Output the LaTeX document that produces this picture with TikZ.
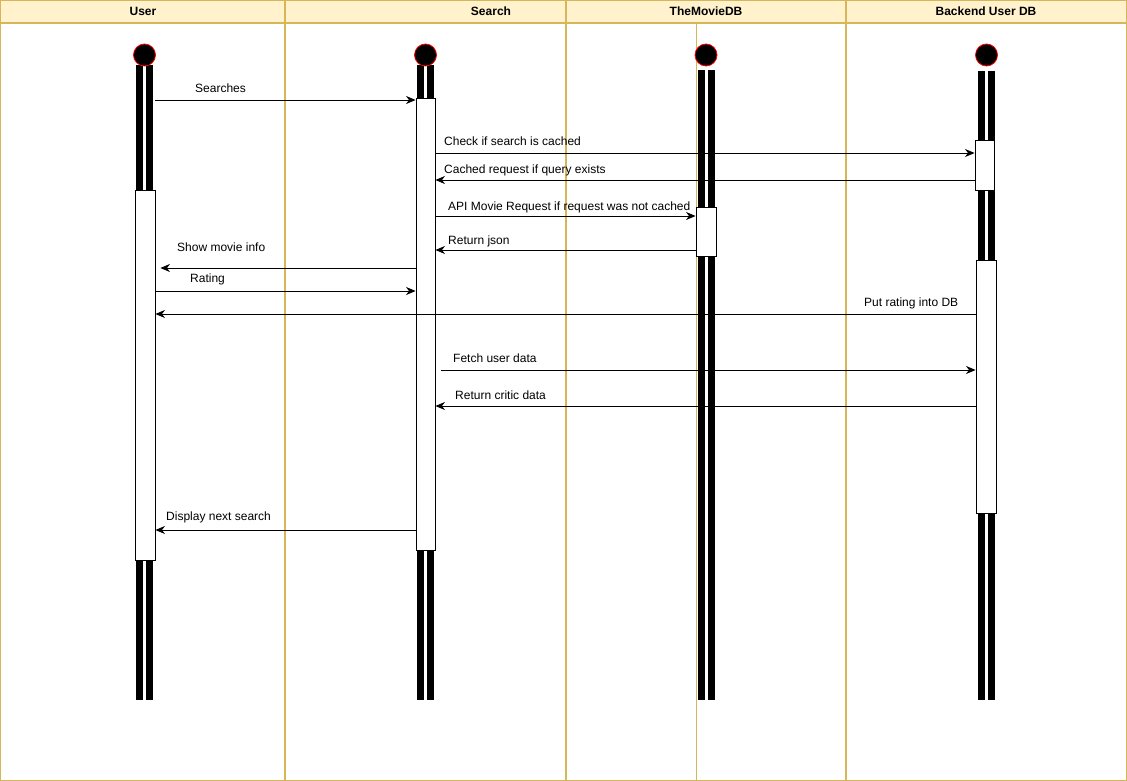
\documentclass[tikz,border=0pt]{standalone}
\usepackage{fontspec}
\setmainfont{Liberation Sans}
\usetikzlibrary{arrows.meta,positioning}
\definecolor{lanefill}{HTML}{FFF2CC}
\definecolor{laneline}{HTML}{D6B656}

\begin{document}
\begin{tikzpicture}[x=1pt,y=-1pt,
	lane/.style={draw=laneline,line width=1.1pt},
	lanehead/.style={font=\fontsize{12}{14}\selectfont\bfseries,inner sep=0pt},
	headdot/.style={circle,fill=black,draw=red,line width=0.8pt,minimum size=22pt,inner sep=0pt},
	act/.style={draw=black,fill=white,line width=0.9pt,inner sep=0pt},
	msg/.style={line width=0.9pt,-{Stealth[length=9.5pt,width=8pt,inset=3pt]}},
	lbl/.style={font=\fontsize{12}{14}\selectfont,anchor=west,inner sep=0pt}]
			\useasboundingbox (0,0) rectangle (1127,781);
			\fill[white] (0,0) rectangle (1127,781);
			
			\draw[lane,fill=lanefill] (0.6,0.6) rectangle (1126.4,23);
			\draw[lane] (0.6,23) rectangle (1126.4,780.4);
			\draw[lane] (285,0.6) -- (285,780.4);
			\draw[lane] (566,0.6) -- (566,780.4);
			\draw[lane,line width=0.8pt] (696,23) -- (696,780.4);
			\draw[lane,line width=2pt] (846,0.6) -- (846,780.4);
			
			\node[lanehead] (huser) at (143,11) {User};
			\node[lanehead] (hsearch) at (491,11) {Search};
			\node[lanehead] (htmdb) at (706,11) {TheMovieDB};
			\node[lanehead] (hbackend) at (986,11) {Backend User DB};
			
			\foreach \cx/\top/\nm in {144.5/65/user,425.5/65/search,706/70/tmdb,986.5/71/backend}{
				\fill (\cx-8.5,\top) rectangle (\cx-1.5,700);
				\fill (\cx+1.5,\top) rectangle (\cx+8.5,700);
				\node[headdot] (\nm) at (\cx,55) {};
			}
			
			\node[act,minimum width=20pt,minimum height=370pt] (ua) at (145,375) {};
			\node[act,minimum width=19pt,minimum height=452pt] (sa) at (425.5,324) {};
			\node[act,minimum width=20pt,minimum height=49pt] (ta) at (706,231.5) {};
			\node[act,minimum width=19pt,minimum height=50pt] (ba1) at (984.5,165) {};
			\node[act,minimum width=20pt,minimum height=253pt] (ba2) at (986,386.5) {};
			
			\draw[msg] (ua.east |- 0,100) -- (sa.west |- 0,100);
			\draw[msg] (sa.east |- 0,153) -- (ba1.west |- 0,153);
			\draw[msg] (ba1.west |- 0,180) -- (sa.east |- 0,180);
			\draw[msg] (sa.east |- 0,216) -- (ta.west |- 0,216);
			\draw[msg] (ta.west |- 0,250) -- (sa.east |- 0,250);
			\draw[msg] (sa.west |- 0,268) -- ([xshift=5pt]ua.east |- 0,268);
			\draw[msg] (ua.east |- 0,291) -- (sa.west |- 0,291);
			\draw[msg] (ba2.west |- 0,314) -- (ua.east |- 0,314);
			\draw[msg] ([xshift=6pt]sa.east |- 0,370) -- (ba2.west |- 0,370);
			\draw[msg] (ba2.west |- 0,406) -- (sa.east |- 0,406);
			\draw[msg] (sa.west |- 0,530) -- (ua.east |- 0,530);
			
			\node[lbl] (l1) at (195,88) {Searches};
			\node[lbl] (l2) at (444,141) {Check if search is cached};
			\node[lbl] (l3) at (444,170) {Cached request if query exists};
			\node[lbl] (l4) at (448,207) {API Movie Request if request was not cached};
			\node[lbl] (l5) at (448,241) {Return json};
			\node[lbl] (l6) at (177,247) {Show movie info};
			\node[lbl] (l7) at (190,279) {Rating};
			\node[lbl] (l8) at (864,303) {Put rating into DB};
			\node[lbl] (l9) at (453,358) {Fetch user data};
			\node[lbl] (l10) at (455,395) {Return critic data};
			\node[lbl] (l11) at (166,517) {Display next search};
		\end{tikzpicture}
\end{document}
